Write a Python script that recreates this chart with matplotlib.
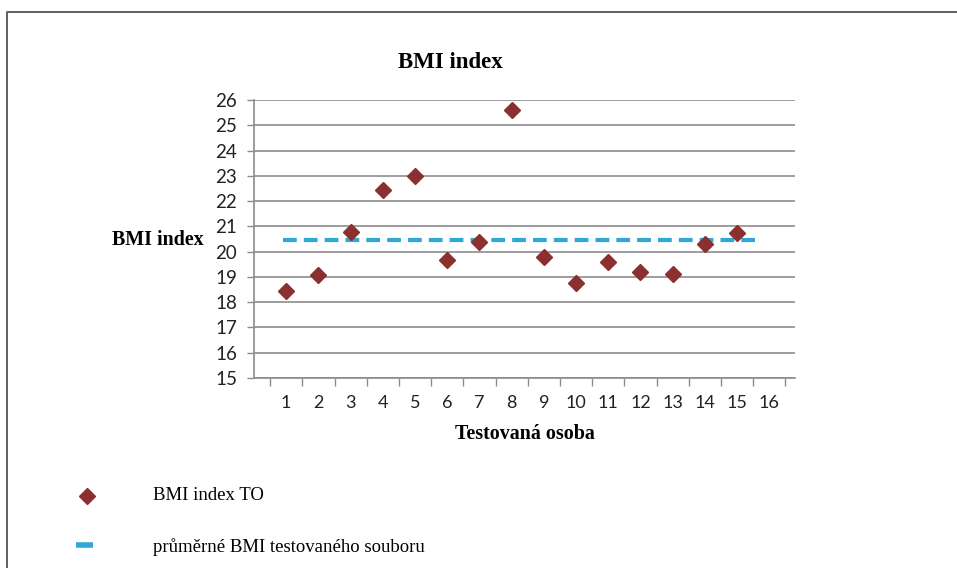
import matplotlib.pyplot as plt
from matplotlib.lines import Line2D

# data
persons = list(range(1, 16))
bmi = [18.43, 19.07, 20.76, 22.42, 22.99, 19.68, 20.38, 25.62,
       19.80, 18.74, 19.59, 19.20, 19.13, 20.29, 20.73]
bmi_mean = 20.48
x_labels = [str(i) for i in range(1, 17)]
y_ticks = list(range(15, 27))

red = '#8B2F2F'
blue = '#2FA8D8'
grid = '#8C8C8C'

fig = plt.figure(figsize=(9.57, 5.68), dpi=100)
ax = fig.add_axes([254 / 957, 1 - 378 / 568, (795 - 254) / 957, (378 - 100) / 568])

# grid + axes
ax.set_ylim(15, 26)
ax.set_xlim(0, 16.8)
ax.set_yticks(y_ticks)
ax.set_yticklabels([str(v) for v in y_ticks], family='Lato', fontsize=13.5, color='#222222')
ax.yaxis.grid(True, color=grid, lw=1.2)
ax.set_axisbelow(True)
for s in ['top', 'right']:
    ax.spines[s].set_visible(False)
for s in ['left', 'bottom']:
    ax.spines[s].set_color(grid)
    ax.spines[s].set_linewidth(1.2)
ax.tick_params(axis='y', length=5, color=grid, width=1.0, pad=7)

# x: labels in the middle, ticks on category borders
ax.set_xticks(range(1, 17))
ax.set_xticklabels(x_labels, family='Lato', fontsize=13, color='#222222')
ax.set_xticks([i + 0.5 for i in range(0, 17)], minor=True)
ax.tick_params(axis='x', which='major', length=0, pad=12)
ax.tick_params(axis='x', which='minor', length=6, color=grid, width=1.0)

# mean line + points
ax.hlines(bmi_mean, persons[0] - 0.1, persons[-1] + 0.55, color=blue, lw=3,
          linestyles=[(0, (3.3, 1.7))], capstyle='butt', zorder=3)
ax.plot(persons, bmi, linestyle='none', marker='D', ms=8, color=red, zorder=4)

# texts
fig.text(450 / 957, 1 - 62 / 568, 'BMI index', family='Liberation Serif', weight='bold',
         fontsize=16.5, ha='center', va='center')
fig.text(204 / 957, 1 - 240 / 568, 'BMI index', family='Liberation Serif', weight='bold',
         fontsize=14.4, ha='right', va='center')
fig.text(525 / 957, 1 - 434 / 568, 'Testovaná osoba', family='Liberation Serif', weight='bold',
         fontsize=14.4, ha='center', va='center')

# legend drawn by hand below the chart
fig.add_artist(Line2D([87 / 957], [1 - 496 / 568], marker='D', ms=8, color=red, linestyle='none'))
fig.text(153 / 957, 1 - 496 / 568, 'BMI index TO', family='Liberation Serif', fontsize=13.5,
         ha='left', va='center')
fig.add_artist(Line2D([76 / 957, 93 / 957], [1 - 545 / 568] * 2, color=blue, lw=4,
                      solid_capstyle='butt'))
fig.text(153 / 957, 1 - 547 / 568, 'průměrné BMI testovaného souboru', family='Liberation Serif',
         fontsize=13.5, ha='left', va='center')

# frame around the picture (only top and left are visible)
fig.add_artist(Line2D([7 / 957, 7 / 957, 1], [0, 1 - 12 / 568, 1 - 12 / 568],
                      color='#555555', lw=1.3))

plt.savefig('out.png', dpi=100)
